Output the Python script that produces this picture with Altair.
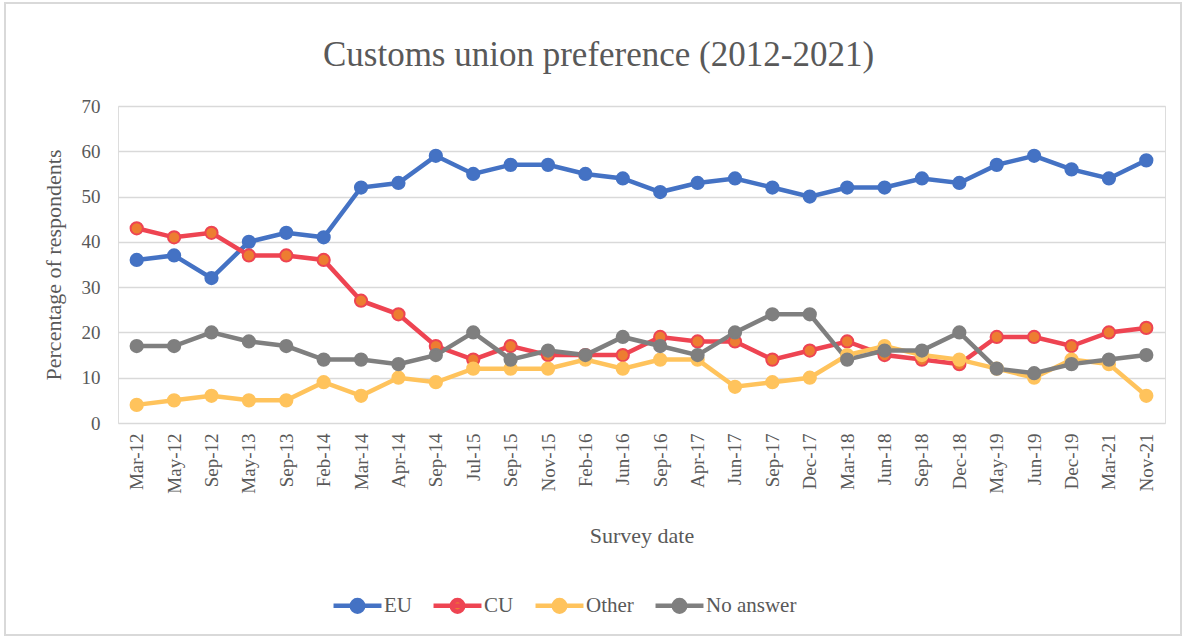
import altair as alt
import pandas as pd

dates = ["Mar-12", "May-12", "Sep-12", "May-13", "Sep-13", "Feb-14", "Mar-14", "Apr-14",
         "Sep-14", "Jul-15", "Sep-15", "Nov-15", "Feb-16", "Jun-16", "Sep-16", "Apr-17",
         "Jun-17", "Sep-17", "Dec-17", "Mar-18", "Jun-18", "Sep-18", "Dec-18", "May-19",
         "Jun-19", "Dec-19", "Mar-21", "Nov-21"]
eu = [36, 37, 32, 40, 42, 41, 52, 53, 59, 55, 57, 57, 55, 54, 51, 53, 54, 52, 50, 52, 52, 54, 53, 57, 59, 56, 54, 58]
cu = [43, 41, 42, 37, 37, 36, 27, 24, 17, 14, 17, 15, 15, 15, 19, 18, 18, 14, 16, 18, 15, 14, 13, 19, 19, 17, 20, 21]
other = [4, 5, 6, 5, 5, 9, 6, 10, 9, 12, 12, 12, 14, 12, 14, 14, 8, 9, 10, 15, 17, 15, 14, 12, 10, 14, 13, 6]
no_answer = [17, 17, 20, 18, 17, 14, 14, 13, 15, 20, 14, 16, 15, 19, 17, 15, 20, 24, 24, 14, 16, 16, 20, 12, 11, 13, 14, 15]

series_names = ["EU", "CU", "Other", "No answer"]
line_colors = ["#4472C4", "#EE4452", "#FFC35C", "#7F7F7F"]
fill_colors = ["#4472C4", "#ED7D31", "#FFC35C", "#7F7F7F"]

rows = []
for name, vals in zip(series_names, [eu, cu, other, no_answer]):
    for d, v in zip(dates, vals):
        rows.append({"date": d, "series": name, "value": v})
df = pd.DataFrame(rows)

FONT = "Liberation Serif"
TXT = "#595959"

x = alt.X("date:N", sort=dates, title="Survey date",
          scale=alt.Scale(type="point", padding=0.5),
          axis=alt.Axis(labelAngle=-90, labelFontSize=19, labelColor=TXT, labelFont=FONT,
                        titleFont=FONT, titleFontSize=22, titleColor=TXT, titleFontWeight="normal",
                        ticks=False, domain=False, grid=False, labelPadding=10, titlePadding=32,
                        labelBaseline="middle"))
y = alt.Y("value:Q", title="Percentage of respondents",
          scale=alt.Scale(domain=[0, 70], nice=False),
          axis=alt.Axis(values=[0, 10, 20, 30, 40, 50, 60, 70], labelFontSize=19, labelColor=TXT,
                        labelFont=FONT, titleFont=FONT, titleFontSize=22, titleColor=TXT,
                        titleFontWeight="normal", ticks=False, domain=False, gridColor="#D9D9D9",
                        gridWidth=1.5, labelPadding=18, titlePadding=16))

legend_path = "M-1,0L1,0M0.24,0A0.24,0.24,0,1,1,-0.24,0A0.24,0.24,0,1,1,0.24,0Z"
leg = alt.Legend(title=None, orient="none", direction="horizontal", legendX=213, legendY=473,
                 symbolType=legend_path, symbolSize=2300, symbolStrokeWidth=4.5,
                 labelFont=FONT, labelFontSize=21, labelColor=TXT, columnPadding=12,
                 labelOffset=0, symbolOpacity=1)

stroke_scale = alt.Scale(domain=series_names, range=line_colors)
fill_scale = alt.Scale(domain=series_names, range=fill_colors)

lines = alt.Chart(df).mark_line(strokeWidth=4.5).encode(
    x=x, y=y,
    stroke=alt.Stroke("series:N", scale=stroke_scale, sort=series_names, legend=leg),
    order=alt.Order("series:N"),
)
points = alt.Chart(df).mark_point(filled=False, size=150, strokeWidth=2, opacity=1).encode(
    x=x, y=y,
    stroke=alt.Stroke("series:N", scale=stroke_scale, sort=series_names, legend=leg),
    fill=alt.Fill("series:N", scale=fill_scale, sort=series_names, legend=leg),
)

border = alt.Chart(df).mark_rect(fill=None, stroke="#D9D9D9", strokeWidth=1.5).encode(
    x=alt.value(-113), x2=alt.value(1063), y=alt.value(-103), y2=alt.value(529)
)

chart = alt.layer(border, lines, points).properties(
    width=1047, height=317,
    title=alt.TitleParams("Customs union preference (2012-2021)", font=FONT, fontSize=35,
                          color=TXT, fontWeight="normal", anchor="middle", dx=-43, offset=-99,
                          baseline="alphabetic", frame="group"),
    autosize=alt.AutoSizeParams(type="none"),
    padding={"left": 118, "top": 106, "right": 21, "bottom": 216},
).configure_view(stroke=None).configure(background="white")

chart.save("out.html", embed_options={"renderer": "svg", "actions": False})
